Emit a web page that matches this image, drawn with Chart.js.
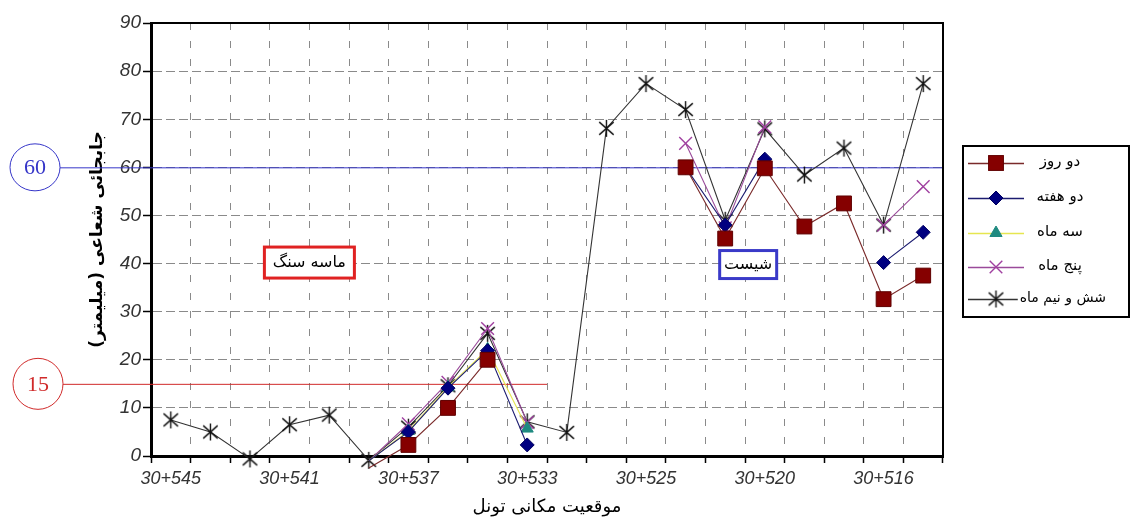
<!DOCTYPE html>
<html><head><meta charset="utf-8">
<script src="https://cdn.jsdelivr.net/npm/chart.js@4/dist/chart.umd.min.js"></script>
<style>html,body{margin:0;padding:0;background:#fff;}canvas{display:block;}</style>
</head><body>
<canvas id="c" width="1130" height="518"></canvas>
<script>
// ---- data ----
const categories = ['P1','P2','P3','P4','P5','P6','P7','P8','P9','P10','P11','P12','P13','P14','P15','P16','P17','P18','P19','P20'];
const tickLabels = ['30+545','','','30+541','','','30+537','','','30+533','','','30+525','','','30+520','','','30+516',''];
const seriesNames = ['دو روز','دو هفته','سه ماه','پنج ماه','شش و نیم ماه'];
const twoDays     = [null,null,null,null,null,-2.5,2.3,10.0,20.0,null,null,null,null,60.0,45.2,59.8,47.7,52.5,32.6,37.5];
const twoWeeks    = [null,null,null,null,null,-1.0,5.0,14.1,21.9,2.3,null,null,null,60.0,48.0,61.7,null,null,40.2,46.5];
const threeMonths = [null,null,null,null,null,-1.0,5.2,14.3,22.2,5.7,null,null,null,null,null,null,null,null,null,null];
const fiveMonths  = [null,null,null,null,null,-1.0,6.7,15.3,26.5,7.0,null,null,null,65.0,47.4,68.4,null,null,48.0,56.0];
const sixHalfMonths = [7.5,5.0,-0.6,6.5,8.5,-0.9,6.0,14.6,25.5,7.1,4.9,68.1,77.4,72.0,49.0,68.0,58.4,64.0,48.0,77.4];
const limitValues = [60, 15];
const limitTexts = ['60', '15'];
const zoneTexts = ['ماسه سنگ', 'شیست'];
const yMin = 0, yMax = 90, yStep = 10;

// ---- styles ----
function makeAsterisk(size, color) {
  const c = document.createElement('canvas');
  c.width = size; c.height = size;
  const g = c.getContext('2d');
  g.strokeStyle = color; g.lineWidth = 1.4;
  const m = size / 2, r = size / 2 - 1;
  g.beginPath();
  g.moveTo(m, m - r); g.lineTo(m, m + r);
  g.moveTo(m - r * 0.85, m - r * 0.75); g.lineTo(m + r * 0.85, m + r * 0.75);
  g.moveTo(m + r * 0.85, m - r * 0.75); g.lineTo(m - r * 0.85, m + r * 0.75);
  g.stroke();
  return c;
}
const asterisk = makeAsterisk(19, '#111111');
const hideNeg = r => (ctx => (ctx.raw !== null && ctx.raw < 0) ? 0 : r);

const styles = [
  {line:'#7a2a2a', fill:'#850000', border:'#600000', style:'rect', r:10.5, bw:1},
  {line:'#1c1c70', fill:'#000080', border:'#000060', style:'rectRot', r:7, bw:1},
  {line:'#e6e650', fill:'#1f8a80', border:'#1f8a80', style:'triangle', r:7, bw:1},
  {line:'#9a4a9a', fill:'#a040a0', border:'#a040a0', style:'crossRot', r:9, bw:1.4},
  {line:'#333333', fill:'#111111', border:'#111111', style:asterisk, r:9, bw:1}
];
const seriesData = [twoDays, twoWeeks, threeMonths, fiveMonths, sixHalfMonths];
const datasets = seriesData.map((d, i) => ({
  label: seriesNames[i],
  data: d,
  borderColor: styles[i].line,
  borderWidth: 1.1,
  backgroundColor: styles[i].fill,
  pointBackgroundColor: styles[i].fill,
  pointBorderColor: styles[i].border,
  pointBorderWidth: styles[i].bw,
  pointStyle: styles[i].style,
  pointRadius: i === 4 ? styles[i].r : hideNeg(styles[i].r),
  pointHoverRadius: styles[i].r,
  tension: 0,
  spanGaps: false,
  clip: {left: 10, top: 10, right: 10, bottom: 16}
}));

function drawMarker(ctx, st, x, y) {
  ctx.save();
  ctx.fillStyle = st.fill; ctx.strokeStyle = st.border; ctx.lineWidth = st.bw;
  const r = st.r;
  if (typeof st.style !== 'string') {
    ctx.drawImage(st.style, x - st.style.width / 2, y - st.style.height / 2);
  } else if (st.style === 'rect') {
    const s = r * Math.SQRT1_2;
    ctx.fillRect(x - s, y - s, 2 * s, 2 * s); ctx.strokeRect(x - s, y - s, 2 * s, 2 * s);
  } else if (st.style === 'rectRot') {
    ctx.beginPath(); ctx.moveTo(x, y - r); ctx.lineTo(x + r, y); ctx.lineTo(x, y + r); ctx.lineTo(x - r, y); ctx.closePath(); ctx.fill(); ctx.stroke();
  } else if (st.style === 'triangle') {
    ctx.beginPath(); ctx.moveTo(x, y - r); ctx.lineTo(x + r * 0.87, y + r * 0.5); ctx.lineTo(x - r * 0.87, y + r * 0.5); ctx.closePath(); ctx.fill(); ctx.stroke();
  } else if (st.style === 'crossRot') {
    const s = r * 0.7;
    ctx.beginPath(); ctx.moveTo(x - s, y - s); ctx.lineTo(x + s, y + s); ctx.moveTo(x + s, y - s); ctx.lineTo(x - s, y + s); ctx.stroke();
  }
  ctx.restore();
}

const decorPlugin = {
  id: 'decor',
  beforeDatasetsDraw(chart) {
    const {ctx, chartArea: a, scales: {x, y}} = chart;
    const step = x.getPixelForValue(1) - x.getPixelForValue(0);
    ctx.save();
    const ends = [a.right, x.getPixelForValue(9) + step / 2];
    const colors = ['#3535c8', '#d02a2a'];
    const cx = [35, 38];
    const rx = [25, 25], ry = [23.5, 25.5];
    limitValues.forEach((v, i) => {
      const py = y.getPixelForValue(v);
      ctx.strokeStyle = colors[i]; ctx.lineWidth = 1;
      ctx.beginPath(); ctx.moveTo(cx[i] + rx[i], py + 0.5); ctx.lineTo(ends[i], py + 0.5); ctx.stroke();
      ctx.beginPath(); ctx.ellipse(cx[i], py, rx[i], ry[i], 0, 0, Math.PI * 2); ctx.stroke();
      ctx.fillStyle = colors[i];
      ctx.font = '22px "Liberation Serif", serif';
      ctx.textAlign = 'center'; ctx.textBaseline = 'middle';
      ctx.fillText(limitTexts[i], cx[i], py + 1);
    });
    ctx.restore();
  },
  afterDatasetsDraw(chart) {
    const {ctx, chartArea: a, scales: {x, y}} = chart;
    const step = x.getPixelForValue(1) - x.getPixelForValue(0);
    ctx.save();
    ctx.strokeStyle = '#000'; ctx.lineWidth = 2;
    ctx.beginPath(); ctx.moveTo(a.left, a.top); ctx.lineTo(a.right, a.top); ctx.lineTo(a.right, a.bottom); ctx.stroke();
    const boxes = [
      {cx: x.getPixelForValue(3) + step / 2, cy: y.getPixelForValue(40) - 1, w: 90, h: 31, color: '#e02222'},
      {cx: x.getPixelForValue(14) + step * 0.58, cy: y.getPixelForValue(40) + 1, w: 57, h: 28, color: '#3a3ac8'}
    ];
    boxes.forEach((b, i) => {
      ctx.fillStyle = '#fff';
      ctx.fillRect(b.cx - b.w / 2, b.cy - b.h / 2, b.w, b.h);
      ctx.strokeStyle = b.color; ctx.lineWidth = 3;
      ctx.strokeRect(b.cx - b.w / 2, b.cy - b.h / 2, b.w, b.h);
      ctx.fillStyle = '#000';
      ctx.font = '16px "DejaVu Sans", sans-serif';
      ctx.textAlign = 'center'; ctx.textBaseline = 'middle';
      ctx.fillText(zoneTexts[i], b.cx, b.cy);
    });
    const L = {x: 963, y: 146, w: 166, h: 171};
    ctx.fillStyle = '#fff'; ctx.fillRect(L.x, L.y, L.w, L.h);
    ctx.strokeStyle = '#000'; ctx.lineWidth = 2;
    ctx.strokeRect(L.x, L.y, L.w, L.h);
    const rows = [163, 198, 233, 267, 299];
    chart.data.datasets.forEach((ds, i) => {
      const ry = rows[i];
      let x2 = 1024;
      ctx.font = (i === 4 ? '14px' : '15px') + ' "DejaVu Sans", sans-serif';
      if (i === 4) x2 = 1106 - ctx.measureText(ds.label).width - 2;
      ctx.strokeStyle = ds.borderColor; ctx.lineWidth = 1.4;
      ctx.beginPath(); ctx.moveTo(968, ry + 0.5); ctx.lineTo(x2, ry + 0.5); ctx.stroke();
      drawMarker(ctx, styles[i], 996, ry);
      ctx.fillStyle = '#000';
      ctx.textBaseline = 'middle';
      if (i === 4) { ctx.textAlign = 'right'; ctx.fillText(ds.label, 1106, ry - 1); }
      else { ctx.textAlign = 'center'; ctx.fillText(ds.label, 1060, ry - 1); }
    });
    ctx.restore();
  }
};

new Chart(document.getElementById('c'), {
  type: 'line',
  data: {labels: categories, datasets},
  plugins: [decorPlugin],
  options: {
    responsive: false,
    animation: false,
    devicePixelRatio: 1,
    layout: {padding: {left: 78, right: 187, top: 23, bottom: 0}},
    plugins: {legend: {display: false}, tooltip: {enabled: false}},
    scales: {
      x: {
        offset: true,
        afterFit(s) { s.height = 62; },
        grid: {offset: true, color: '#8a8a8a', lineWidth: 1, tickLength: 7, tickColor: '#000', tickWidth: 1.5, tickBorderDash: []},
        border: {display: true, color: '#000', width: 3, dash: [7, 11]},
        ticks: {
          autoSkip: false, maxRotation: 0, minRotation: 0, padding: 5,
          color: '#333', font: {family: '"Liberation Sans", Arial, sans-serif', size: 18, style: 'italic'},
          callback: (v, i) => tickLabels[i]
        },
        title: {display: true, text: 'موقعیت مکانی تونل', color: '#000',
          font: {family: '"DejaVu Sans", sans-serif', size: 18}, padding: {top: 0, bottom: 0}}
      },
      y: {
        min: yMin, max: yMax,
        afterFit(s) { s.width = 73; },
        grid: {color: '#8a8a8a', lineWidth: 1, tickLength: 8, tickColor: '#000', tickWidth: 1.5, tickBorderDash: []},
        border: {display: true, color: '#000', width: 3, dash: [9, 4]},
        ticks: {stepSize: yStep, padding: 2, color: '#333',
          font: {family: '"Liberation Sans", Arial, sans-serif', size: 19, style: 'italic'}},
        title: {display: true, text: 'جابجائی شعاعی (میلیمتر)', color: '#000',
          font: {family: '"DejaVu Sans", sans-serif', size: 17, weight: 'bold'}, padding: {top: 9, bottom: 0}}
      }
    }
  }
});
</script>
</body></html>
